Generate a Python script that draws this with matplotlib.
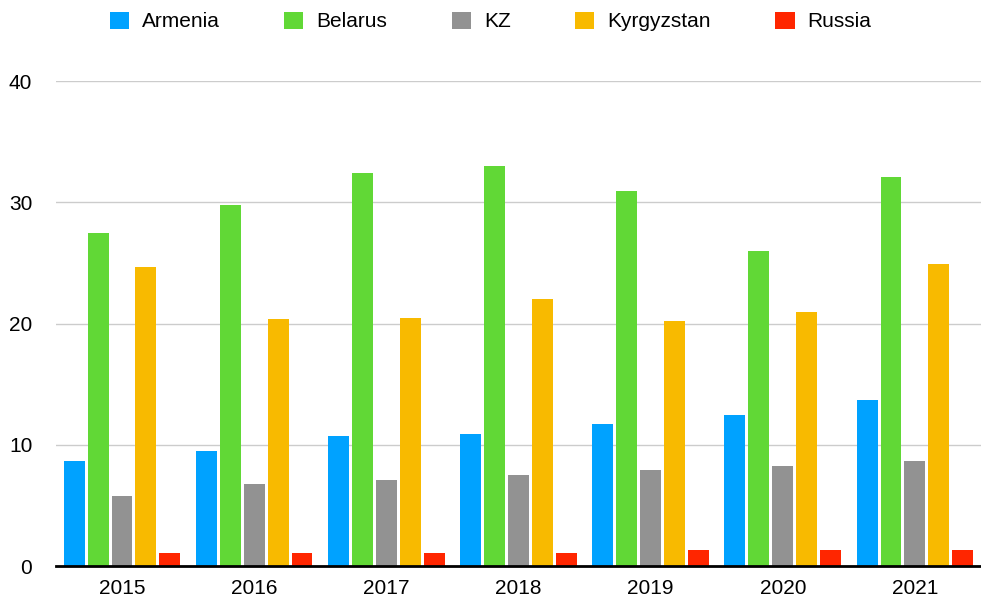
import numpy as np
import matplotlib
matplotlib.use("Agg")
import matplotlib.pyplot as plt

plt.rcParams['font.family'] = ['Liberation Sans', 'DejaVu Sans']

# Datos
years = ['2015', '2016', '2017', '2018', '2019', '2020', '2021']
armenia = [8.7, 9.5, 10.7, 10.9, 11.7, 12.5, 13.7]
belarus = [27.5, 29.8, 32.4, 33.0, 30.9, 26.0, 32.1]
kz = [5.8, 6.8, 7.1, 7.5, 7.9, 8.3, 8.7]
kyrgyzstan = [24.7, 20.4, 20.5, 22.0, 20.2, 21.0, 24.9]
russia = [1.1, 1.1, 1.1, 1.1, 1.3, 1.3, 1.3]

series = [
    ('Armenia', armenia, '#00A2FF'),
    ('Belarus', belarus, '#61D836'),
    ('KZ', kz, '#929292'),
    ('Kyrgyzstan', kyrgyzstan, '#F8BA00'),
    ('Russia', russia, '#FF2600'),
]

fig = plt.figure(figsize=(9.81, 6.01), dpi=100)
ax = fig.add_axes([0.057, 0.058, 0.943, 0.807])

x = np.arange(len(years))
slot = 0.181
width = 0.158
for i, (name, vals, col) in enumerate(series):
    ax.bar(x + (i - 2) * slot, vals, width, color=col, label=name, zorder=3)

ax.set_xlim(-0.5, len(years) - 0.5)
ax.set_ylim(0, 40)
ax.set_yticks([0, 10, 20, 30, 40])
ax.set_xticks(x)
ax.set_xticklabels(years)
ax.tick_params(axis='both', length=0, labelsize=15)
ax.tick_params(axis='y', pad=17)
ax.tick_params(axis='x', pad=9)
ax.yaxis.grid(True, color='#cccccc', linewidth=1.0, zorder=0)

for s in ['top', 'right', 'left']:
    ax.spines[s].set_visible(False)
ax.spines['bottom'].set_color('black')
ax.spines['bottom'].set_linewidth(2)
ax.spines['bottom'].set_zorder(4)

fig.legend(loc='upper center', bbox_to_anchor=(0.5, 1.012), ncol=5, frameon=False,
           fontsize=15, handlelength=0.92, handleheight=0.92, handletextpad=0.62,
           columnspacing=3.1)

fig.savefig('out.png', dpi=100)
